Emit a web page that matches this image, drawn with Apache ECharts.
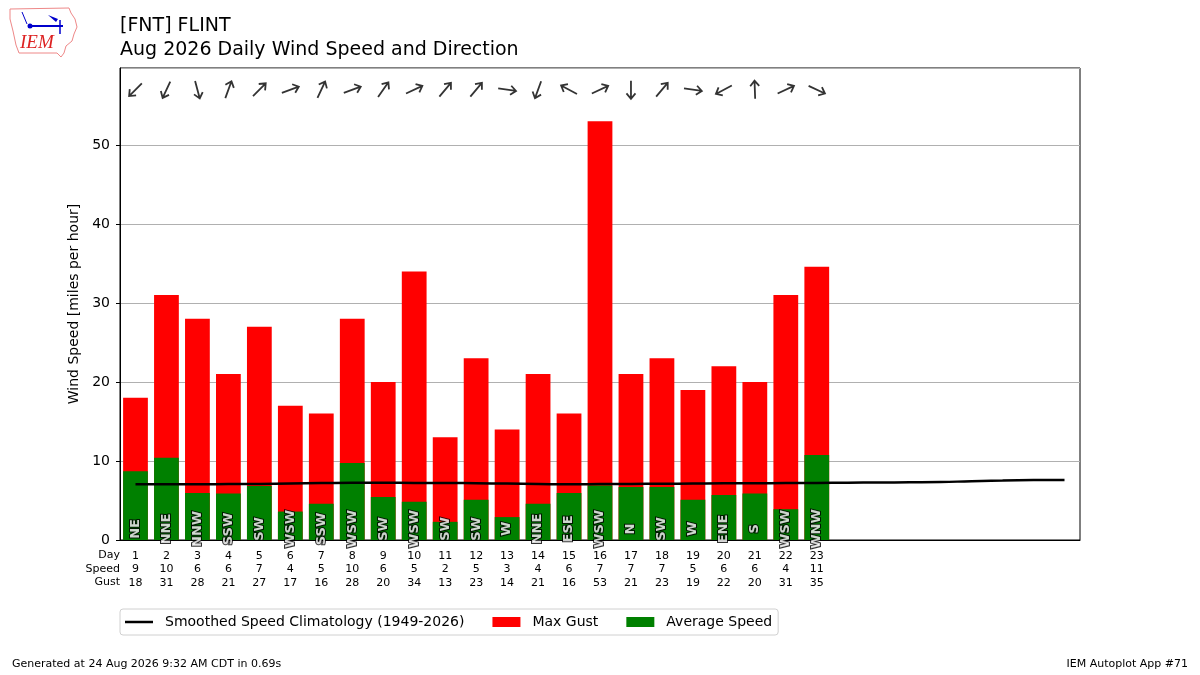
<!DOCTYPE html>
<html>
<head>
    <meta charset="utf-8">
    <title>FNT Daily Wind</title>
    <script src="https://cdn.jsdelivr.net/npm/echarts@6/dist/echarts.min.js"></script>
    <style>
        html, body { margin: 0; padding: 0; background: #fff; }
        #main { width: 1200px; height: 675px; }
    </style>
</head>
<body>
<div id="main"></div>
<script type="text/javascript">
// day of month categories (axis spans the whole month)
var days = ['1','2','3','4','5','6','7','8','9','10','11','12','13','14','15','16',
            '17','18','19','20','21','22','23','24','25','26','27','28','29','30','31'];
var dirLabels = ['NE','NNE','NNW','SSW','SW','WSW','SSW','WSW','SW','WSW','SW','SW',
                 'W','NNE','ESE','WSW','N','SW','W','ENE','S','WSW','WNW'];
// wind coming from, degrees (read from the arrows)
var dirDegrees = [45, 25, 345, 200, 225, 250, 205, 250, 215, 245, 220, 220,
                  278, 20, 118, 245, 0, 220, 278, 62, 178, 245, 295];
var avgSpeed = [8.7, 10.4, 5.95, 5.9, 6.85, 3.6, 4.6, 9.75, 5.45, 4.85, 2.3, 5.1,
                2.9, 4.6, 5.95, 6.9, 6.7, 6.7, 5.1, 5.7, 5.9, 3.9, 10.75];
var maxGust = [18, 31, 28, 21, 27, 17, 16, 28, 20, 34, 13, 23,
               14, 21, 16, 53, 21, 23, 19, 22, 20, 31, 34.6];
var speedLabels = [9, 10, 6, 6, 7, 4, 5, 10, 6, 5, 2, 5, 3, 4, 6, 7, 7, 7, 5, 6, 6, 4, 11];
var gustLabels = [18, 31, 28, 21, 27, 17, 16, 28, 20, 34, 13, 23, 14, 21, 16, 53, 21, 23, 19, 22, 20, 31, 35];
var climo = [7.05, 7.05, 7.05, 7.08, 7.1, 7.15, 7.2, 7.25, 7.25, 7.22, 7.22, 7.18,
             7.15, 7.1, 7.05, 7.08, 7.1, 7.12, 7.15, 7.18, 7.18, 7.2, 7.22, 7.25,
             7.28, 7.3, 7.33, 7.45, 7.52, 7.58, 7.6];

var FONT = 'DejaVu Sans';
var myChart = echarts.init(document.getElementById('main'));

var arrowPath = 'path://M10,0 L10,20 M5,6 L10,0 L15,6';

var arrowData = dirDegrees.map(function (d, i) {
    var toward = (d + 180) % 360;
    return { value: [i, 57], symbolRotate: -toward };
});
var dirData = dirLabels.map(function (t, i) {
    return { value: [i, 1.4], name: t };
});

function hdr(txt, top) {
    return { type: 'text', right: 1080, top: top,
             style: { text: txt, font: '11px "DejaVu Sans"', fill: '#000' } };
}

var option = {
    animation: false,
    backgroundColor: '#fff',
    textStyle: { fontFamily: FONT },
    title: {
        text: '[FNT] FLINT\nAug 2026 Daily Wind Speed and Direction',
        left: 120,
        top: 14,
        padding: 0,
        textStyle: { fontFamily: FONT, fontSize: 19, fontWeight: 'normal', color: '#000', lineHeight: 24 }
    },
    grid: {
        left: 120, right: 120, top: 68, bottom: 135,
        show: true, borderColor: '#000', borderWidth: 1, backgroundColor: 'transparent'
    },
    legend: {
        left: 120,
        top: 609,
        orient: 'horizontal',
        padding: [6, 6, 6, 5],
        itemGap: 28,
        itemWidth: 28,
        itemHeight: 10,
        borderColor: '#d0d0d0',
        borderWidth: 1,
        borderRadius: 3,
        textStyle: { fontFamily: FONT, fontSize: 14, color: '#000', padding: [0, 0, 0, 7] },
        data: [
            { name: 'Smoothed Speed Climatology (1949-2026)', icon: 'path://M0,0 L28,0 L28,2.5 L0,2.5 Z' },
            { name: 'Max Gust', icon: 'rect' },
            { name: 'Average Speed', icon: 'rect' }
        ]
    },
    xAxis: {
        type: 'category',
        data: days,
        boundaryGap: true,
        axisLine: { lineStyle: { color: '#000' } },
        axisTick: {
            alignWithLabel: true,
            length: 4,
            lineStyle: { color: '#000' },
            interval: function (index) { return index < dirLabels.length; }
        },
        axisLabel: {
            interval: 0,
            margin: 9,
            fontFamily: FONT,
            fontSize: 11,
            lineHeight: 13.5,
            color: '#000',
            formatter: function (value, index) {
                if (index >= speedLabels.length) { return ''; }
                return value + '\n' + speedLabels[index] + '\n' + gustLabels[index];
            }
        },
        splitLine: { show: false }
    },
    yAxis: {
        type: 'value',
        min: 0,
        max: 59.75,
        interval: 10,
        name: 'Wind Speed [miles per hour]',
        nameLocation: 'middle',
        nameGap: 32,
        nameTextStyle: { fontFamily: FONT, fontSize: 14, color: '#000' },
        axisLine: { show: true, lineStyle: { color: '#000' } },
        axisTick: { show: true, length: 4, lineStyle: { color: '#000' } },
        axisLabel: {
            fontFamily: FONT, fontSize: 14, color: '#000', margin: 10, showMaxLabel: false,
            formatter: function (v) { return v > 55 ? '' : v; }
        },
        splitLine: { show: true, lineStyle: { color: '#b0b0b0', width: 1 } }
    },
    graphic: [
        // IEM logo, rough
        { type: 'polygon', shape: { points: [[10,9],[69,8],[71,13],[75,19],[77,27],[74,34],[72,41],[66,46],[64,53],[61,57],[57,53],[19,53],[16,45],[13,31],[10,19]] },
          style: { fill: 'none', stroke: '#e88', lineWidth: 1 } },
        { type: 'line', shape: { x1: 30, y1: 26, x2: 63, y2: 26 }, style: { stroke: '#0000cc', lineWidth: 2 } },
        { type: 'circle', shape: { cx: 30, cy: 26, r: 2.5 }, style: { fill: '#0000cc' } },
        { type: 'polygon', shape: { points: [[48,15],[58,19],[56,22]] }, style: { fill: '#0000cc' } },
        { type: 'line', shape: { x1: 60, y1: 20, x2: 60, y2: 34 }, style: { stroke: '#0000cc', lineWidth: 1.5 } },
        { type: 'line', shape: { x1: 22, y1: 12, x2: 27, y2: 24 }, style: { stroke: '#0000cc', lineWidth: 1 } },
        { type: 'text', left: 20, top: 33,
          style: { text: 'IEM', font: 'italic 19px "Liberation Serif"', fill: '#d22' } },
        // row headers for the x axis labels
        hdr('Day', 550),
        hdr('Speed', 563.5),
        hdr('Gust', 577),
        // footer
        { type: 'text', left: 12, top: 659,
          style: { text: 'Generated at 24 Aug 2026 9:32 AM CDT in 0.69s', font: '11px "DejaVu Sans"', fill: '#000' } },
        { type: 'text', right: 12, top: 659,
          style: { text: 'IEM Autoplot App #71', font: '11px "DejaVu Sans"', fill: '#000' } }
    ],
    series: [
        {
            name: 'Max Gust',
            type: 'bar',
            data: maxGust,
            barWidth: '80%',
            barGap: '-100%',
            itemStyle: { color: '#ff0000' },
            z: 2
        },
        {
            name: 'Average Speed',
            type: 'bar',
            data: avgSpeed,
            barWidth: '80%',
            barGap: '-100%',
            itemStyle: { color: '#008000' },
            z: 3
        },
        {
            name: 'Smoothed Speed Climatology (1949-2026)',
            type: 'line',
            data: climo,
            symbol: 'none',
            smooth: true,
            lineStyle: { color: '#000', width: 2.5 },
            itemStyle: { color: '#000' },
            z: 5
        },
        {
            name: 'dirText',
            type: 'scatter',
            data: dirData,
            symbolSize: 0,
            silent: true,
            z: 6,
            label: {
                show: true,
                position: 'inside',
                rotate: 90,
                formatter: function (p) { return p.name; },
                fontFamily: FONT,
                fontSize: 13,
                fontWeight: 'bold',
                color: '#fff',
                textBorderColor: '#000',
                textBorderWidth: 2
            }
        },
        {
            name: 'dirArrow',
            type: 'scatter',
            data: arrowData,
            symbol: arrowPath,
            symbolSize: 18,
            symbolKeepAspect: true,
            silent: true,
            itemStyle: { color: 'none', borderColor: '#000', borderWidth: 1.8 },
            z: 6
        }
    ]
};

myChart.setOption(option);
</script>
</body>
</html>
